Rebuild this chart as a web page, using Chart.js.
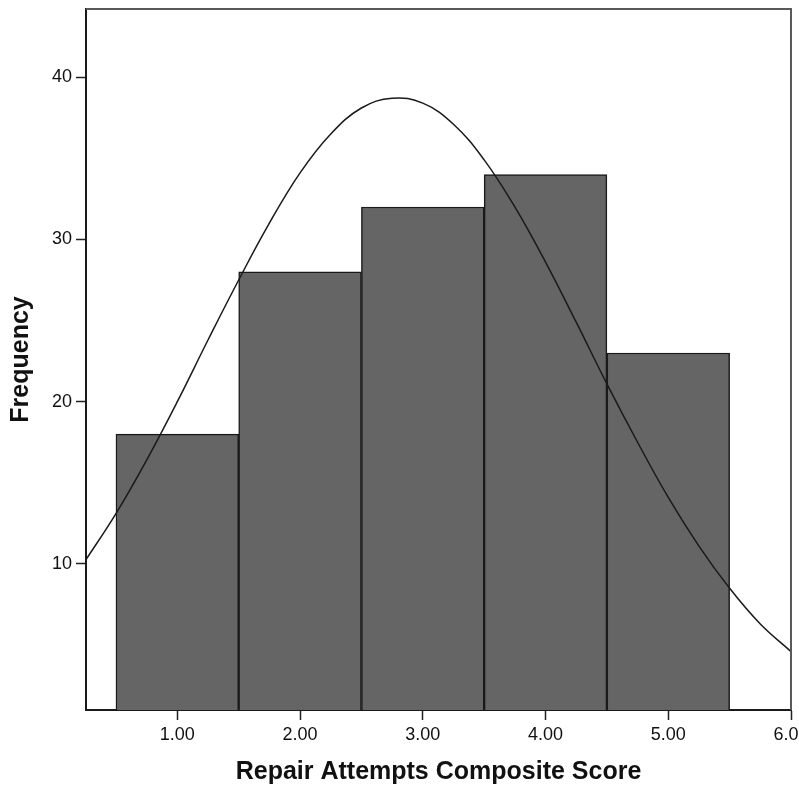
<!DOCTYPE html>
<html>
<head>
<meta charset="utf-8">
<script src="https://cdn.jsdelivr.net/npm/chart.js@4/dist/chart.umd.min.js"></script>
<style>
  html, body { margin: 0; padding: 0; background: #ffffff; }
  #wrap { width: 799px; height: 790px; }
</style>
</head>
<body>
<div id="wrap"><canvas id="hist" width="799" height="790"></canvas></div>
<script>
// Histogram bins (bin centre) and counts
const binCentres = [1, 2, 3, 4, 5];
const frequencies = [18, 28, 32, 34, 23];

// Fitted normal curve, sampled along the score axis
const curveX = [0.25, 0.5, 0.75, 1.0, 1.25, 1.5, 1.75, 2.0, 2.25, 2.5, 2.75, 3.0,
                3.25, 3.5, 3.75, 4.0, 4.25, 4.5, 4.75, 5.0, 5.25, 5.5, 5.75, 6.0];
const curveY = [10.2, 13.1, 16.4, 20.0, 23.8, 27.5, 31.0, 34.1, 36.5, 38.1, 38.7, 38.4,
                37.1, 34.9, 32.0, 28.6, 24.9, 21.1, 17.5, 14.1, 11.1, 8.5, 6.3, 4.6];

// Axis ticks
const xTickValues = [1, 2, 3, 4, 5, 6];
const xTickLabels = ['1.00', '2.00', '3.00', '4.00', '5.00', '6.00'];
const yTickValues = [10, 20, 30, 40];

const xTitle = 'Repair Attempts Composite Score';
const yTitle = 'Frequency';

Chart.defaults.font.family = '"Liberation Sans", Arial, sans-serif';
Chart.defaults.color = '#111111';

// Top and right edges of the plot frame
const framePlugin = {
  id: 'frame',
  afterDraw(chart) {
    const a = chart.chartArea;
    const ctx = chart.ctx;
    ctx.save();
    ctx.strokeStyle = '#5a5a5a';
    ctx.lineWidth = 2;
    ctx.beginPath();
    ctx.moveTo(a.left, a.top);
    ctx.lineTo(a.right, a.top);
    ctx.lineTo(a.right, a.bottom);
    ctx.stroke();
    ctx.restore();
  }
};

new Chart(document.getElementById('hist'), {
  data: {
    datasets: [
      {
        type: 'line',
        data: curveX.map((x, i) => ({ x: x, y: curveY[i] })),
        borderColor: '#1a1a1a',
        borderWidth: 1.5,
        pointRadius: 0,
        tension: 0.4,
        fill: false,
        order: 0
      },
      {
        type: 'bar',
        data: binCentres.map((x, i) => ({ x: x, y: frequencies[i] })),
        backgroundColor: '#656565',
        borderColor: '#1a1a1a',
        borderWidth: 1.5,
        barPercentage: 1.0,
        categoryPercentage: 1.0,
        order: 1
      }
    ]
  },
  options: {
    responsive: false,
    animation: false,
    layout: { padding: { top: 9, right: 8, left: 0, bottom: 0 } },
    plugins: {
      legend: { display: false },
      tooltip: { enabled: false }
    },
    scales: {
      x: {
        type: 'linear',
        position: 'bottom',
        offset: false,
        min: 0.256,
        max: 6.0,
        afterBuildTicks(scale) {
          scale.ticks = xTickValues.map(v => ({ value: v }));
        },
        afterFit(scale) {
          scale.height = 80;
          scale.paddingLeft = 0;
          scale.paddingRight = 0;
        },
        ticks: {
          autoSkip: false,
          maxRotation: 0,
          padding: 4,
          color: '#111111',
          font: { size: 18 },
          callback: (v) => xTickLabels[xTickValues.indexOf(v)]
        },
        grid: {
          offset: false,
          drawOnChartArea: false,
          drawTicks: true,
          tickLength: 10,
          tickWidth: 1.5,
          tickColor: '#222222'
        },
        border: { display: true, color: '#1a1a1a', width: 2 },
        title: {
          display: true,
          text: xTitle,
          color: '#111111',
          font: { size: 25, weight: 'bold' },
          padding: { top: 0, bottom: 3 }
        }
      },
      y: {
        type: 'linear',
        position: 'left',
        min: 1.0,
        max: 44.2,
        afterBuildTicks(scale) {
          scale.ticks = yTickValues.map(v => ({ value: v }));
        },
        afterFit(scale) {
          scale.width = 86;
          scale.paddingTop = 0;
          scale.paddingBottom = 0;
        },
        ticks: {
          padding: 4,
          color: '#111111',
          font: { size: 18 }
        },
        grid: {
          drawOnChartArea: false,
          drawTicks: true,
          tickLength: 10,
          tickWidth: 1.5,
          tickColor: '#222222'
        },
        border: { display: true, color: '#1a1a1a', width: 2 },
        title: {
          display: true,
          text: yTitle,
          color: '#111111',
          font: { size: 25, weight: 'bold' },
          padding: { top: 6, bottom: 0 }
        }
      }
    }
  },
  plugins: [framePlugin]
});
</script>
</body>
</html>
